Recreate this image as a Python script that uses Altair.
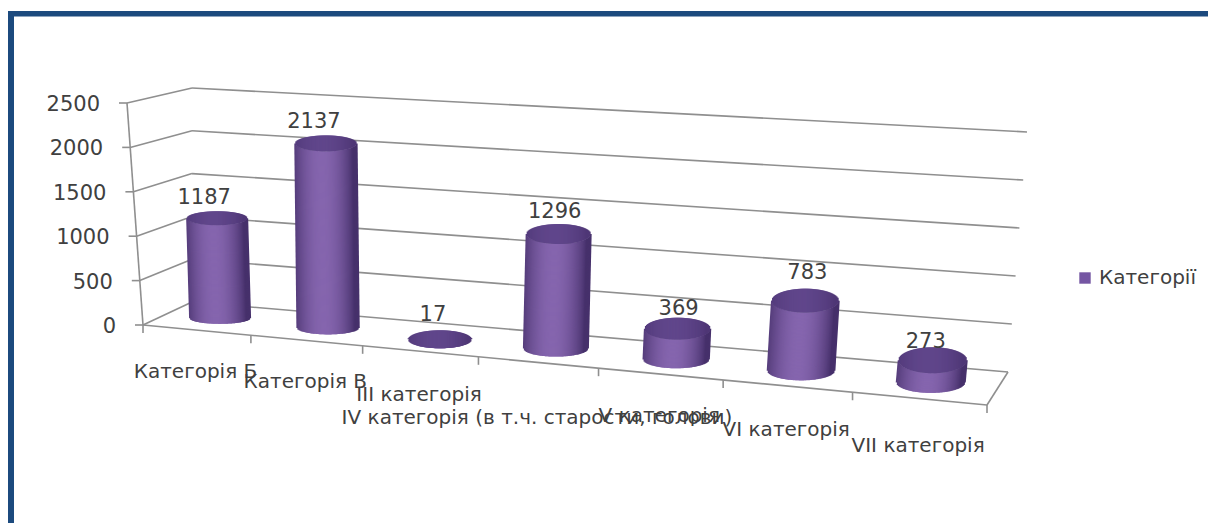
import math
import altair as alt
import pandas as pd

categories = ["Категорія Б", "Категорія В", "III категорія",
              "IV категорія (в т.ч. старости, голови)", "V категорія",
              "VI категорія", "VII категорія"]
values = [1187, 2137, 17, 1296, 369, 783, 273]
value_ticks = [0, 500, 1000, 1500, 2000, 2500]
series_name = "Категорії"

# ---- layout of the pseudo-3D box (page pixels) ----
W, H = 1200, 515
VMAX = 2500
FL0, BL0, BR0, FR0 = (143, 325), (192, 302), (1008, 372), (987, 405)
FLT, BLT, BRT, FRT = (127, 103), (192, 88), (1027, 132), (1009, 150)
PERSP = 1.137
FONT = "DejaVu Sans"
TXT = "#404040"
LINE = "#8f8f8f"
LABEL_EXTRA = [0, 0, 2, 14, 0, 2, 5]
VALUE_NUDGE = [-13, -12, -7, -4, 1, 2, -7]
VALUE_LIFT = [20, 21, 24, 22, 20, 28, 18]


def lerp(a, b, t):
    return (a[0] + (b[0] - a[0]) * t, a[1] + (b[1] - a[1]) * t)


def persp(t):
    return t / (t + (1 - t) * PERSP)


def project(pos, depth, v):
    """pos in categories (0..7), depth 0 front..1 back, v in data units."""
    u = persp(pos / len(categories))
    floor = lerp(lerp(FL0, FR0, u), lerp(BL0, BR0, u), depth)
    top = lerp(lerp(FLT, FRT, u), lerp(BLT, BRT, u), depth)
    return lerp(floor, top, v / VMAX)


def seg(a, b):
    return {"x": a[0], "y": a[1], "x2": b[0], "y2": b[1]}


# box lines
lines = []
for v in value_ticks:
    lines.append(seg(project(0, 0, v), project(0, 1, v)))
    lines.append(seg(project(0, 1, v), project(7, 1, v)))
    p = project(0, 0, v)
    lines.append(seg((p[0] - 8, p[1]), p))
lines.append(seg(project(0, 0, 0), project(0, 0, VMAX)))
lines.append(seg(project(0, 0, 0), project(7, 0, 0)))
lines.append(seg(project(7, 0, 0), project(7, 1, 0)))
for i in range(8):
    p = project(i, 0, 0)
    lines.append(seg(p, (p[0], p[1] + 8)))
lines_df = pd.DataFrame(lines)


def mix(a, b, t):
    ca = [int(a[i:i + 2], 16) for i in (1, 3, 5)]
    cb = [int(b[i:i + 2], 16) for i in (1, 3, 5)]
    return "#%02x%02x%02x" % tuple(round(x + (y - x) * t) for x, y in zip(ca, cb))


strips, val_labels, cat_labels = [], [], []
for i, (cat, val) in enumerate(zip(categories, values)):
    frac = i / 6
    R = 30 + 4 * frac
    ry = 7 + 6 * frac
    base = project(i + 0.5, 0.5, 0)
    top = project(i + 0.5, 0.5, val)
    top = (top[0], top[1] + 2 + 0.002 * val + 2 * frac)
    n = int(2 * R)
    for k in range(n + 1):
        p = -1 + k * 2 / n
        arc = math.sqrt(max(0, 1 - p * p))
        shade = max(0.0, math.cos((p + 0.12) * math.pi / 2)) ** 0.8
        strips.append({
            "cat": cat, "part": 0,
            "x": top[0] + R * p, "y": top[1] + ry * arc,
            "x2": base[0] + R * p, "y2": base[1] + ry * 0.8 * arc,
            "c": mix("#46306b", "#8565ae", shade),
        })
        strips.append({
            "cat": cat, "part": 1,
            "x": top[0] + R * p, "y": top[1] - ry * arc,
            "x2": top[0] + R * p, "y2": top[1] + ry * arc,
            "c": mix("#4f3776", "#60468b", shade),
        })
    val_labels.append({"t": str(val), "x": top[0] + VALUE_NUDGE[i], "y": top[1] - VALUE_LIFT[i]})
    f = project(i + 0.5, 0, 0)
    cat_labels.append({"t": cat, "x": f[0] - 1, "y": f[1] + 42 + LABEL_EXTRA[i]})

strips_df = pd.DataFrame(strips).sort_values("part", kind="stable")
val_df = pd.DataFrame(val_labels)
cat_df = pd.DataFrame(cat_labels)
tick_df = pd.DataFrame([
    {"t": str(v), "x": project(0, 0, v)[0] - 27, "y": project(0, 0, v)[1] + 2}
    for v in value_ticks
])
frame_df = pd.DataFrame([
    {"x": 0, "x2": 1216, "y": 11, "y2": 16.5},
    {"x": 0, "x2": 14, "y": 11, "y2": 531},
])
legend_df = pd.DataFrame({"s": [series_name], "x": [-100], "y": [-100]})

xs = alt.Scale(domain=[8, 8 + W], range=[0, W], nice=False, zero=False)
ys = alt.Scale(domain=[8 + H, 8], range=[H, 0], nice=False, zero=False)
X = alt.X("x:Q", scale=xs, axis=None)
Y = alt.Y("y:Q", scale=ys, axis=None)

frame = alt.Chart(frame_df).mark_rect(color="#1c4a7e", clip=True).encode(
    X, Y, x2="x2:Q", y2="y2:Q")
grid = alt.Chart(lines_df).mark_rule(color=LINE, strokeWidth=1.6).encode(
    X, Y, x2="x2:Q", y2="y2:Q")
body = alt.Chart(strips_df).mark_rule(strokeWidth=2).encode(
    X, Y, x2="x2:Q", y2="y2:Q", color=alt.Color("c:N", scale=None, legend=None))


def text_layer(df, size, align):
    return alt.Chart(df).mark_text(font=FONT, fontSize=size, color=TXT, align=align,
                                   baseline="middle").encode(X, Y, text="t:N")


legend = alt.Chart(legend_df).mark_point(shape="square", filled=True, opacity=1, clip=True).encode(
    X, Y,
    color=alt.Color("s:N", scale=alt.Scale(domain=[series_name], range=["#7556a3"]),
                    legend=alt.Legend(title=None, orient="none", legendX=1067, legendY=260,
                                      symbolType="square", symbolSize=130, symbolOpacity=1,
                                      labelFont=FONT, labelFontSize=20, labelColor=TXT,
                                      labelLimit=200)),
)

chart = alt.layer(
    frame, grid, body,
    text_layer(tick_df, 21, "right"),
    text_layer(val_df, 21, "center"),
    text_layer(cat_df, 20, "center"),
    legend,
).resolve_scale(color="independent").properties(
    width=W, height=H, padding=0, autosize=alt.AutoSizeParams(type="none"),
    background="white",
).configure_view(stroke=None)

chart.save("out.html", embed_options={"renderer": "svg", "actions": False})
